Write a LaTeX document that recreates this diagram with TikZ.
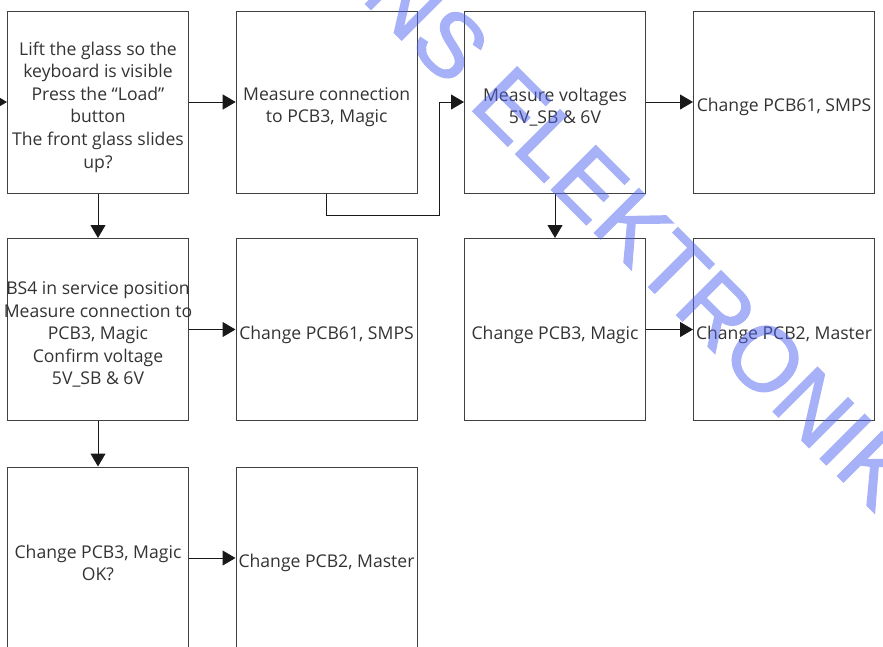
\documentclass[tikz,border=0pt]{standalone}
\usepackage{fontspec}
\setmainfont{Open Sans}
\newfontface\stampfont{Liberation Sans}[FakeBold=1.5]
\usetikzlibrary{arrows.meta}
\definecolor{boxline}{HTML}{404040}
\definecolor{boxtext}{HTML}{333333}
\definecolor{stampblue}{RGB}{80,100,240}

\begin{document}
\begin{tikzpicture}[x=1pt, y=-1pt,
    >={Triangle[length=13pt,width=15pt]},
    % one step of the chart, its text a little below the middle
    stepbox/.style={draw=boxline, line width=1pt, minimum width=181pt, minimum height=182pt, inner sep=0pt},
    steptext/.style={text=boxtext, align=center, font=\fontsize{17.6}{22.6}\selectfont, yshift=-5pt},
    flow/.style={->, line width=1pt, draw=black!90},
    stamp/.style={text=stampblue, rotate=-45, font=\stampfont\fontsize{91}{91}\selectfont}
]
\useasboundingbox (0,0) rectangle (883,646);
\clip (0,0) rectangle (883,646);

% 1. First row
\node[stepbox, label={[steptext]center:{Lift the glass so the\\keyboard is visible\\Press the “Load”\\button\\The front glass slides\\up?}}] (lift) at (98,102) {};
\node[stepbox, label={[steptext]center:{Measure connection\\to PCB3, Magic}}] (meas) at (326.7,102) {};
\node[stepbox, label={[steptext]center:{Measure voltages\\5V\_SB \& 6V}}] (volt) at (555,102) {};
\node[stepbox, label={[steptext]center:{Change PCB61, SMPS}}] (smpsa) at (784,102) {};

% 2. Second row
\node[stepbox, label={[steptext]center:{BS4 in service position\\Measure connection to\\PCB3, Magic\\Confirm voltage\\5V\_SB \& 6V}}] (service) at (98,329.5) {};
\node[stepbox, label={[steptext]center:{Change PCB61, SMPS}}] (smpsb) at (326.5,329.5) {};
\node[stepbox, label={[steptext]center:{Change PCB3, Magic}}] (magic) at (555,329.5) {};
\node[stepbox, label={[steptext]center:{Change PCB2, Master}}] (mastera) at (784,329.5) {};

% 3. Third row (cut at the bottom edge)
\node[stepbox, label={[steptext]center:{Change PCB3, Magic\\OK?}}] (okcheck) at (98,558) {};
\node[stepbox, label={[steptext]center:{Change PCB2, Master}}] (masterb) at (326.5,558) {};

% 4. Connectors
\coordinate (entry) at (-40,102);
\coordinate (bend) at (439,215);
\draw[flow] (entry) -- (lift.west);
\draw[flow] (lift.east) -- (meas.west);
\draw[flow] (meas.south) |- (bend) |- (volt.west);
\draw[flow] (volt.east) -- (smpsa.west);
\draw[flow] (volt.south) -- (magic.north);
\draw[flow] (lift.south) -- (service.north);
\draw[flow] (service.east) -- (smpsb.west);
\draw[flow] (magic.east) -- (mastera.west);
\draw[flow] (service.south) -- (okcheck.north);
\draw[flow] (okcheck.east) -- (masterb.west);

% 5. Watermark across the sheet
\begin{scope}[transparency group, opacity=0.5]
\node[stamp] (wm) at (640,234) {NS ELEKTRONIK};
\end{scope}

\end{tikzpicture}
\end{document}
